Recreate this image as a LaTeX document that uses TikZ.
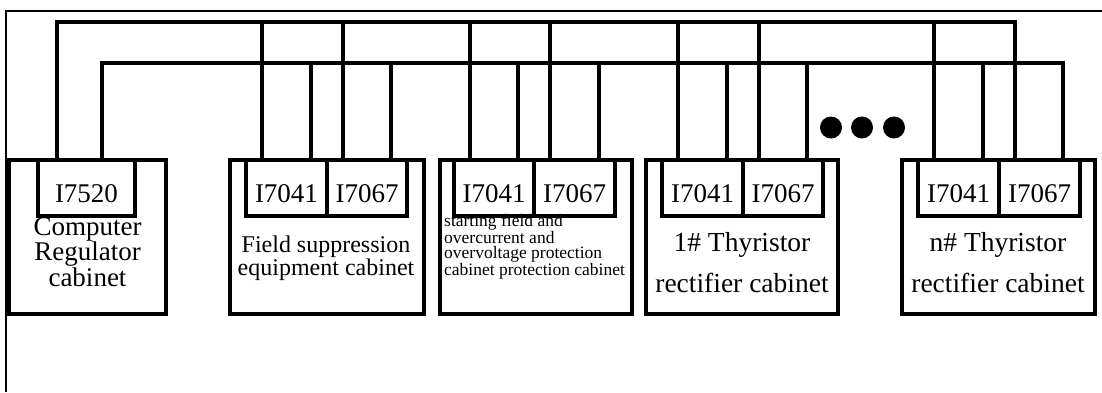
\documentclass[tikz,border=0pt]{standalone}
\usepackage{fontspec}
\setmainfont{Liberation Serif}
\begin{document}
\begin{tikzpicture}[x=1pt,y=-1pt,
  frame/.style={line width=2pt},
  cab/.style={draw,line width=4pt,rectangle,inner sep=0pt,outer sep=0pt,anchor=north west,minimum height=154pt},
  port/.style={draw,line width=4pt,rectangle,inner sep=0pt,outer sep=0pt,anchor=north west,minimum height=56pt,text height=28pt,text depth=0pt,font=\fontsize{27}{27}\selectfont},
  bus/.style={line width=4pt},
  lbl/.style={align=center,inner sep=0pt},
  dotmark/.style={circle,fill,inner sep=0pt,minimum size=22pt}]
\useasboundingbox (0,0) rectangle (1102,392);
% frame
\draw[frame] (6,392) -- (6,10.5) -- (1102,10.5);
% bus reference coordinates
\coordinate (topbus) at (0,22);
\coordinate (lowbus) at (0,63);
% cabinets
\node[cab,minimum width=157pt] (c1) at (9,160) {};
\node[cab,minimum width=194pt] (c2) at (230,160) {};
\node[cab,minimum width=192pt] (c3) at (440,160) {};
\node[cab,minimum width=192pt] (c4) at (646,160) {};
\node[cab,minimum width=193pt] (c5) at (902,160) {};
% cabinet labels
\node[lbl,font=\fontsize{27}{24}\selectfont] (t1) at (87.5,252) {Computer\\Regulator\\cabinet};
\node[lbl,font=\fontsize{24}{18}\selectfont] (t2) at (326,258.6) {Field suppression\\equipment cabinet};
\node[lbl,align=left,anchor=west,font=\fontsize{17.5}{15}\selectfont] (t3) at (444,246.4) {starting field and\\overcurrent and\\overvoltage protection\\cabinet protection cabinet};
\node[lbl,font=\fontsize{27.5}{41}\selectfont] (t4) at (742,263) {1\# Thyristor\\rectifier cabinet};
\node[lbl,font=\fontsize{27.5}{41}\selectfont] (t5) at (998,263) {n\# Thyristor\\rectifier cabinet};
% ports
\node[port,minimum width=97pt] (p1) at (38,160) {I7520\hspace{20pt}};
\node[port,minimum width=81pt] (p2a) at (246,160) {I7041\hspace{4pt}};
\node[port,minimum width=80pt] (p2b) at (327,160) {I7067\hspace{4pt}};
\node[port,minimum width=80pt] (p3a) at (454,160) {I7041\hspace{4pt}};
\node[port,minimum width=81pt] (p3b) at (534,160) {I7067\hspace{4pt}};
\node[port,minimum width=81pt] (p4a) at (662,160) {I7041\hspace{4pt}};
\node[port,minimum width=80pt] (p4b) at (743,160) {I7067\hspace{4pt}};
\node[port,minimum width=81pt] (p5a) at (918,160) {I7041\hspace{4pt}};
\node[port,minimum width=81pt] (p5b) at (999,160) {I7067\hspace{4pt}};
% main buses
\draw[bus] ([xshift=19pt]p1.north west) |- ([xshift=16pt]p5b.north west |- topbus) -- ([xshift=16pt]p5b.north west);
\draw[bus] ([xshift=-33pt]p1.north east) |- ([xshift=-17pt]p5b.north east |- lowbus) -- ([xshift=-17pt]p5b.north east);
% drops from top bus
\foreach \p in {p2a,p2b,p3a,p3b,p4a,p4b,p5a}
  \draw[bus] ([xshift=16pt]\p.north west) -- ([xshift=16pt]\p.north west |- topbus);
% drops from lower bus
\foreach \p in {p2a,p2b,p3a,p3b,p4a,p4b,p5a}
  \draw[bus] ([xshift=-16pt]\p.north east) -- ([xshift=-16pt]\p.north east |- lowbus);
% ellipsis dots
\node[dotmark] (d1) at (831,127.5) {};
\node[dotmark] (d2) at (862,127.5) {};
\node[dotmark] (d3) at (894,127.5) {};
\end{tikzpicture}
\end{document}
